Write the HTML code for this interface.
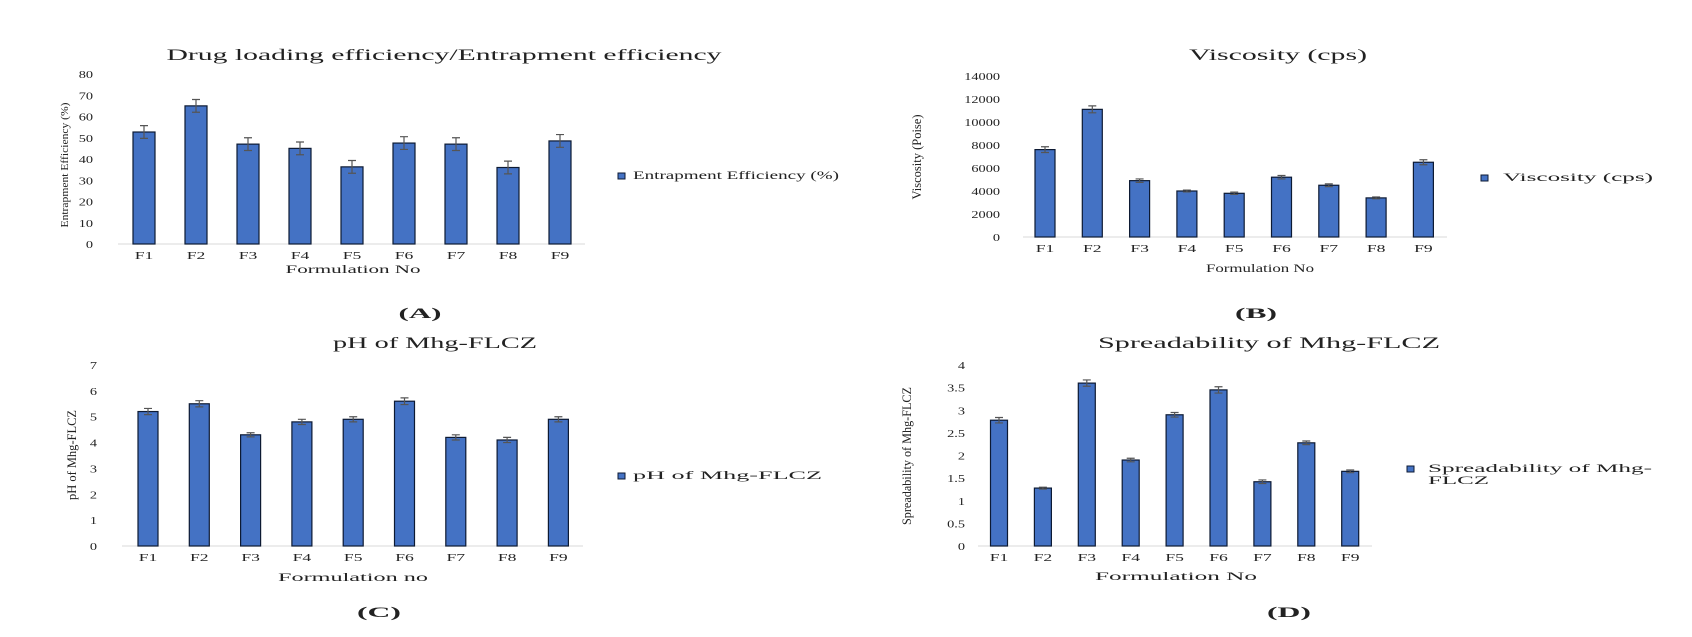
<!DOCTYPE html>
<html><head><meta charset="utf-8">
<style>
html,body{margin:0;padding:0;background:#fff;}
svg{display:block;}
text{font-family:"Liberation Serif",serif;fill:#222;}
</style></head>
<body>
<svg id="fig" width="1692" height="637" viewBox="0 0 1692 637" xmlns="http://www.w3.org/2000/svg"></svg>
<script>
const categories = ["F1","F2","F3","F4","F5","F6","F7","F8","F9"];
const valuesA = [52.7,65,47,45,36.3,47.5,47,36,48.5];
const errorsA = [3,3,3,3,3,3,3,3,3];
const ticksA = [0,10,20,30,40,50,60,70,80];
const valuesB = [7600,11100,4900,4000,3800,5200,4500,3400,6500];
const errorsB = [250,300,150,80,100,150,120,80,220];
const ticksB = [0,2000,4000,6000,8000,10000,12000,14000];
const valuesC = [5.2,5.5,4.3,4.8,4.9,5.6,4.2,4.1,4.9];
const errorsC = [0.12,0.12,0.08,0.1,0.1,0.13,0.1,0.1,0.1];
const ticksC = [0,1,2,3,4,5,6,7];
const valuesD = [2.78,1.28,3.6,1.9,2.9,3.45,1.42,2.28,1.65];
const ticksD = ["0","0.5","1","1.5","2","2.5","3","3.5","4"];
const errorsD = [0.06,0.02,0.07,0.04,0.05,0.07,0.04,0.04,0.03];

const NS="http://www.w3.org/2000/svg";
const svg=document.getElementById('fig');
function mk(tag,attrs,parent){const e=document.createElementNS(NS,tag);for(const k in attrs)e.setAttribute(k,attrs[k]);(parent||svg).appendChild(e);return e;}
function txt(s,attrs,parent,len){const e=mk('text',attrs,parent);e.textContent=s;if(len){e.setAttribute('textLength',len);e.setAttribute('lengthAdjust','spacingAndGlyphs');}return e;}

function chart(cfg){
  const g=mk('g',{});
  
  
  const ymax=+cfg.ticks[cfg.ticks.length-1];
  const y=v=>cfg.y0-(v/ymax)*(cfg.y0-cfg.yTop);
  const x=i=>cfg.x1+i*cfg.pitch;
  const t=txt(cfg.title,{x:cfg.titleX,y:cfg.titleY,'text-anchor':'middle','font-size':16},g,cfg.titleLen);
  
  
  cfg.ticks.forEach(tk=>{
    const l=txt(String(tk),{x:0,y:0,'text-anchor':'end','font-size':11,transform:`translate(${cfg.tickX},${y(+tk)+4}) scale(1.3,1)`},g);
    
    
  });
  const ax=mk('line',{x1:cfg.axL,x2:cfg.axR,y1:cfg.y0,y2:cfg.y0,stroke:'#d9d9d9','stroke-width':1},g);
  
  
  cfg.values.forEach((v,i)=>{
    const cx=x(i);
    const b=mk('rect',{x:cx-cfg.bw/2,y:y(v),width:cfg.bw,height:cfg.y0-y(v),fill:'#4472c4',stroke:'#0d1a33','stroke-width':1.2},g);
    
    
    const e=cfg.errors[i];
    const eg=mk('path',{d:`M${cx},${y(v+e)}V${y(v-e)}M${cx-4},${y(v+e)}H${cx+4}M${cx-4},${y(v-e)}H${cx+4}`,stroke:'#555','stroke-width':1.2,fill:'none'},g);
    
    
    const cl=txt(categories[i],{x:0,y:0,'text-anchor':'middle','font-size':11,transform:`translate(${cx},${cfg.y0+15}) scale(1.6,1)`},g);
    
    
  });
  const xt=txt(cfg.xTitle,{x:cfg.xTitleX,y:cfg.xTitleY,'text-anchor':'middle','font-size':12},g,cfg.xTitleLen);
  
  
  const yt=txt(cfg.yTitle,{x:0,y:0,'text-anchor':'middle','font-size':cfg.yTitleSize,transform:`translate(${cfg.yTitleX},${cfg.yTitleY}) rotate(-90)`},g,cfg.yTitleLen);
  
  
  const lg=mk('g',{},g);
  
  
  mk('rect',{x:cfg.legX,y:cfg.legY,width:7,height:6,fill:'#4472c4',stroke:'#0d1a33','stroke-width':1},lg);
  cfg.legText.forEach((s,k)=>txt(s,{x:cfg.legTX,y:cfg.legY+6+k*12,'font-size':12},lg,cfg.legLen[k]));
  const p=txt(cfg.panel,{x:cfg.panelX,y:cfg.panelY,'text-anchor':'middle','font-size':15,'font-weight':'bold'},g,cfg.panelLen);
  
  
}

chart({name:'chart-entrapment-efficiency',title:'Drug loading efficiency/Entrapment efficiency',titleX:444,titleY:60,titleLen:555,
  values:valuesA,errors:errorsA,ticks:ticksA,y0:244,yTop:74,x1:144,pitch:52,bw:22,tickX:93,axL:118,axR:585,
  xTitle:'Formulation No',xTitleX:353,xTitleY:273,xTitleLen:135,yTitle:'Entrapment Efficiency (%)',yTitleX:68,yTitleY:165,yTitleLen:125,yTitleSize:11,
  legX:618,legY:173,legTX:633,legText:['Entrapment Efficiency (%)'],legLen:[206],panel:'(A)',panelX:420,panelY:318,panelLen:43});
chart({name:'chart-viscosity',title:'Viscosity (cps)',titleX:1278,titleY:60,titleLen:178,
  values:valuesB,errors:errorsB,ticks:ticksB,y0:237,yTop:76,x1:1045,pitch:47.3,bw:20,tickX:1000,axL:1023,axR:1447,
  xTitle:'Formulation No',xTitleX:1260,xTitleY:272,xTitleLen:108,yTitle:'Viscosity (Poise)',yTitleX:921,yTitleY:157,yTitleLen:85,yTitleSize:13,
  legX:1481,legY:175,legTX:1503,legText:['Viscosity (cps)'],legLen:[150],panel:'(B)',panelX:1256,panelY:318,panelLen:42});
chart({name:'chart-ph',title:'pH of Mhg-FLCZ',titleX:435,titleY:348,titleLen:204,
  values:valuesC,errors:errorsC,ticks:ticksC,y0:546,yTop:365,x1:148,pitch:51.3,bw:20,tickX:97,axL:122,axR:583,
  xTitle:'Formulation no',xTitleX:353,xTitleY:581,xTitleLen:150,yTitle:'pH of Mhg-FLCZ',yTitleX:76,yTitleY:455,yTitleLen:90,yTitleSize:13,
  legX:618,legY:473,legTX:633,legText:['pH of Mhg-FLCZ'],legLen:[189],panel:'(C)',panelX:379,panelY:617,panelLen:44});
chart({name:'chart-spreadability',title:'Spreadability of Mhg-FLCZ',titleX:1269,titleY:348,titleLen:342,
  values:valuesD,errors:errorsD,ticks:ticksD,y0:546,yTop:365,x1:999,pitch:43.9,bw:17,tickX:965,axL:978,axR:1372,
  xTitle:'Formulation No',xTitleX:1176,xTitleY:580,xTitleLen:162,yTitle:'Spreadability of Mhg-FLCZ',yTitleX:911,yTitleY:456,yTitleLen:138,yTitleSize:13,
  legX:1407,legY:466,legTX:1428,legText:['Spreadability of Mhg-','FLCZ'],legLen:[224,61],panel:'(D)',panelX:1289,panelY:617,panelLen:44});
</script>
</body></html>
